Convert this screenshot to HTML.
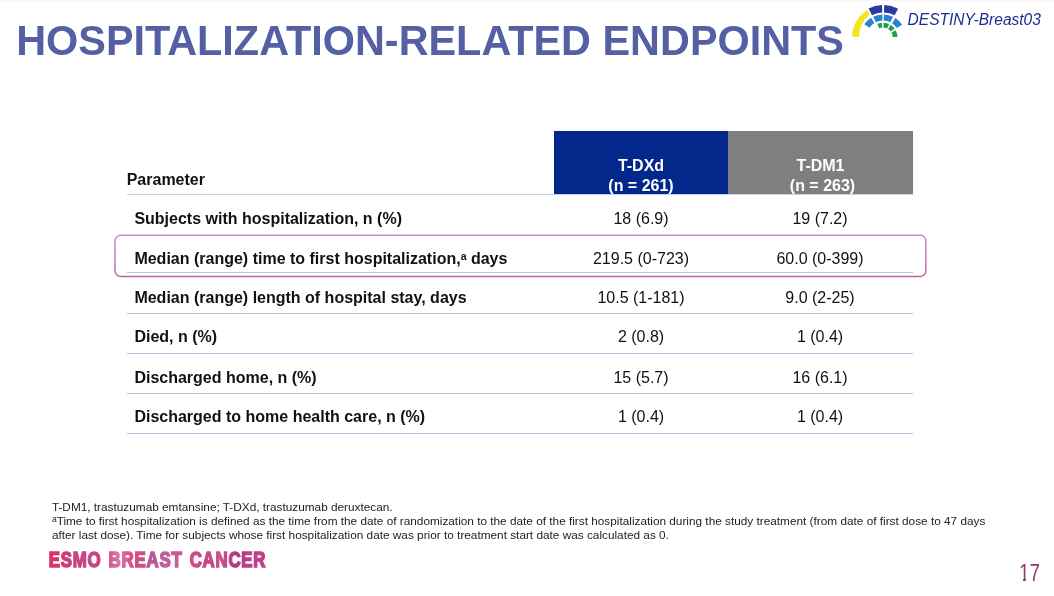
<!DOCTYPE html>
<html><head><meta charset="utf-8">
<style>
html,body{margin:0;padding:0;}
body{width:1054px;height:596px;background:#fff;position:relative;overflow:hidden;font-family:"Liberation Sans",Arial,sans-serif;}
.abs{position:absolute;white-space:nowrap;}
#title{left:16.2px;top:16.7px;font-size:41.4px;font-weight:bold;color:#5560a4;line-height:48px;transform-origin:0 38.4px;transform:scaleY(1.042);}
#brand{left:907.6px;top:10.5px;font-size:15.5px;font-style:italic;color:#1c2d8e;line-height:18px;transform-origin:0 14.4px;transform:scaleY(1.03);}
.line{position:absolute;left:126.8px;width:786px;height:1.2px;}
.lab{position:absolute;left:134.4px;font-size:16px;font-weight:bold;color:#111;line-height:18px;white-space:nowrap;}
.v{position:absolute;width:174px;text-align:center;font-size:16px;color:#111;line-height:18px;white-space:nowrap;}
.c1{left:554px;}
.c2{left:733px;}
.hd{position:absolute;top:131px;height:63.3px;color:#fff;font-weight:bold;font-size:16px;text-align:center;line-height:20px;overflow:hidden;}
.hd div{position:absolute;left:0;right:0;top:25px;}
#fn{left:51.9px;top:500.3px;font-size:11.8px;line-height:14px;color:#222;white-space:nowrap;}
#pn{left:1019.3px;top:560.9px;font-size:23px;color:#8e3c78;line-height:24px;transform-origin:0 0;transform:scaleX(0.82);}
</style></head><body>
<div style="position:absolute;left:0;top:0;width:1054px;height:1px;background:#f8f8f8"></div>
<div id="title" class="abs">HOSPITALIZATION-RELATED ENDPOINTS</div>
<svg class="abs" style="left:845px;top:0" width="70" height="45" viewBox="845 0 70 45" id="logo"><path d="M852.10 36.80A31 31 0 0 1 867.37 10.29L869.52 14.83A28 28 0 0 0 859.10 36.80Z" fill="#f6e41c"/><path d="M868.57 8.49A32 32 0 0 1 881.98 5.02L882.24 12.51A24.5 24.5 0 0 0 871.98 15.17Z" fill="#2a3c9c"/><path d="M884.22 5.02A32 32 0 0 1 898.12 8.75L894.60 15.37A24.5 24.5 0 0 0 883.96 12.51Z" fill="#2a3c9c"/><path d="M864.36 24.36A22.6 22.6 0 0 1 871.12 17.83L874.36 23.01A16.5 16.5 0 0 0 869.42 27.77Z" fill="#2a82d0"/><path d="M873.19 16.69A22.6 22.6 0 0 1 882.31 14.41L882.52 20.51A16.5 16.5 0 0 0 875.87 22.17Z" fill="#2a82d0"/><path d="M883.89 14.41A22.6 22.6 0 0 1 893.01 16.69L890.33 22.17A16.5 16.5 0 0 0 883.68 20.51Z" fill="#2a82d0"/><path d="M895.41 18.05A22.6 22.6 0 0 1 902.05 24.69L896.94 28.01A16.5 16.5 0 0 0 892.09 23.16Z" fill="#2a82d0"/><path d="M877.28 23.94A14.3 14.3 0 0 1 881.85 22.75L882.27 27.54A9.5 9.5 0 0 0 879.24 28.32Z" fill="#1ea050"/><path d="M883.60 22.71A14.3 14.3 0 0 1 889.14 24.04L887.11 28.39A9.5 9.5 0 0 0 883.43 27.51Z" fill="#1ea050"/><path d="M890.68 24.87A14.3 14.3 0 0 1 894.67 28.59L890.79 31.42A9.5 9.5 0 0 0 888.13 28.94Z" fill="#1ea050"/><path d="M895.73 30.29A14.3 14.3 0 0 1 897.40 37.00L892.60 37.00A9.5 9.5 0 0 0 891.49 32.54Z" fill="#1ea050"/></svg>
<div id="brand" class="abs">DESTINY-Breast03</div>

<div class="hd" style="left:554px;width:174px;background:#01288a"><div>T-DXd<br>(n = 261)</div></div>
<div class="hd" style="left:728px;width:185px;background:#7f7f7f"><div>T-DM1<br><span style="position:relative;left:2px">(n = 263)</span></div></div>

<div class="lab" id="param" style="left:126.7px;top:170.5px">Parameter</div>

<div class="line" style="top:194.1px;background:#c6cdec"></div>
<div class="line" style="top:235.1px;background:#b9c3e8"></div>
<div class="line" style="top:272.3px;background:#b9c3e8"></div>
<div class="line" style="top:312.7px;background:#b9c3e8"></div>
<div class="line" style="top:352.7px;background:#b9c3e8"></div>
<div class="line" style="top:393.0px;background:#b9c3e8"></div>
<div class="line" style="top:432.7px;background:#b9c3e8"></div>

<div class="lab" id="r1" style="top:210px">Subjects with hospitalization, n (%)</div>
<div class="lab" id="r2" style="top:250px">Median (range) time to first hospitalization,<span style="font-size:10.5px;position:relative;top:-4.5px">a</span> days</div>
<div class="lab" id="r3" style="top:289px">Median (range) length of hospital stay, days</div>
<div class="lab" id="r4" style="top:328px">Died, n (%)</div>
<div class="lab" id="r5" style="top:369px">Discharged home, n (%)</div>
<div class="lab" id="r6" style="top:408px">Discharged to home health care, n (%)</div>

<div class="v c1" id="a1" style="top:210px">18 (6.9)</div><div class="v c2" id="b1" style="top:210px">19 (7.2)</div>
<div class="v c1" id="a2" style="top:250px">219.5 (0-723)</div><div class="v c2" id="b2" style="top:250px">60.0 (0-399)</div>
<div class="v c1" id="a3" style="top:289px">10.5 (1-181)</div><div class="v c2" id="b3" style="top:289px">9.0 (2-25)</div>
<div class="v c1" id="a4" style="top:328px">2 (0.8)</div><div class="v c2" id="b4" style="top:328px">1 (0.4)</div>
<div class="v c1" id="a5" style="top:369px">15 (5.7)</div><div class="v c2" id="b5" style="top:369px">16 (6.1)</div>
<div class="v c1" id="a6" style="top:408px">1 (0.4)</div><div class="v c2" id="b6" style="top:408px">1 (0.4)</div>

<svg id="hl" class="abs" style="left:110px;top:230px" width="822" height="52" viewBox="110 230 822 52"><defs><linearGradient id="hg" gradientUnits="userSpaceOnUse" x1="0" y1="235" x2="0" y2="277"><stop offset="0" stop-color="#cc8acd"/><stop offset="0.5" stop-color="#cb7cbc"/><stop offset="1" stop-color="#c4609c"/></linearGradient></defs><rect x="115.05" y="235.35" width="810.8" height="41.1" rx="5.5" ry="5.5" fill="none" stroke="url(#hg)" stroke-width="1.5"/></svg>

<div id="fn" class="abs"><span id="f1">T-DM1, trastuzumab emtansine; T-DXd, trastuzumab deruxtecan.</span><br><span id="f2"><span style="font-size:8.5px;line-height:0;position:relative;top:-3px">a</span>Time to first hospitalization is defined as the time from the date of randomization to the date of the first hospitalization during the study treatment (from date of first dose to 47 days</span><br><span id="f3">after last dose). Time for subjects whose first hospitalization date was prior to treatment start date was calculated as 0.</span></div>
<svg id="esmo" class="abs" style="left:40px;top:540px" width="250" height="40" viewBox="0 0 250 40">
<defs><linearGradient id="eg" gradientUnits="userSpaceOnUse" x1="10" y1="0" x2="290" y2="0">
<stop offset="0" stop-color="#de2d68"/><stop offset="0.10" stop-color="#c9417f"/><stop offset="0.18" stop-color="#c24a8e"/><stop offset="0.24" stop-color="#cd3d7c"/>
<stop offset="0.32" stop-color="#d877a4"/><stop offset="0.38" stop-color="#de4a7c"/><stop offset="0.45" stop-color="#bd5593"/><stop offset="0.52" stop-color="#b9609f"/>
<stop offset="0.58" stop-color="#c95a98"/><stop offset="0.64" stop-color="#d54a84"/><stop offset="0.72" stop-color="#c64585"/><stop offset="0.78" stop-color="#d0528b"/>
<stop offset="0.84" stop-color="#ae3a80"/><stop offset="0.90" stop-color="#ba4089"/><stop offset="0.95" stop-color="#c04087"/><stop offset="1" stop-color="#ca3f7c"/>
</linearGradient></defs>
<text x="11" y="26.7" transform="scale(0.793,1)" font-family="Liberation Sans, Arial, sans-serif" font-weight="bold" font-size="21.2" fill="url(#eg)" stroke="url(#eg)" stroke-width="1.6" stroke-linejoin="miter" letter-spacing="1.0" word-spacing="2.2">ESMO BREAST CANCER</text>
</svg>
<div id="pn" class="abs">17</div>
<div style="position:absolute;left:1019px;top:578.1px;width:4px;height:4px;background:#fff"></div><div style="position:absolute;left:1026px;top:578.1px;width:4px;height:4px;background:#fff"></div>
</body></html>
